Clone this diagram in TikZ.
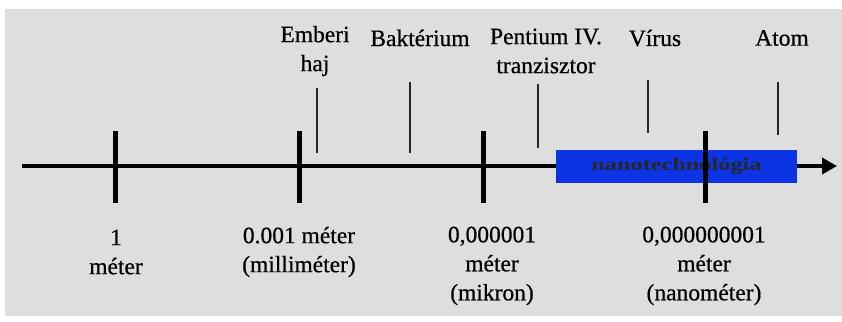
\documentclass[tikz,border=0pt]{standalone}
\usepackage{fontspec}
\usepackage{graphicx}
\setmainfont{Liberation Serif}
\newfontfamily\heavyserif[FakeBold=0.6]{Liberation Serif}
\usetikzlibrary{arrows.meta}
\definecolor{bggray}{RGB}{222,222,222}
\definecolor{nanoblue}{RGB}{12,52,228}
\tikzset{
  lbl/.style={font=\heavyserif\fontsize{23.5}{29}\selectfont, align=center, inner sep=0pt, text=black},
  tickmark/.style={line width=5pt, black},
  pointer/.style={line width=1.4pt, black!85},
  axisline/.style={line width=4pt, black, -{Triangle[length=15pt,width=16pt]}},
  nanobox/.style={fill=nanoblue, draw=none, minimum width=241pt, minimum height=33pt, inner sep=0pt,
    font=\bfseries\fontsize{18}{20}\selectfont, text=black!85}
}
\begin{document}
\begin{tikzpicture}[x=1pt,y=-1pt]
\useasboundingbox (0,0) rectangle (842,321);
\fill[white] (0,0) rectangle (842,321);
\fill[bggray] (5,9) rectangle (842,316);
% axis
\coordinate (axstart) at (22,166);
\coordinate (axend) at (837,166);
\draw[axisline] (axstart) -- (axend);
% blue box
\node[nanobox] (nano) at (676.5,166.5) {\scalebox{1.35}[1]{nanotechnológia}};
% ticks
\foreach \n/\x in {t1/115,t2/299,t3/483,t4/705}{
  \coordinate (\n top) at (\x,131);
  \coordinate (\n bot) at (\x,203);
  \draw[tickmark] (\n top) -- (\n bot);
}
% bottom labels
\node[lbl] (l1) at (116,252) {1\\méter};
\node[lbl] (l2) at (299,252) {0.001 méter\\(milliméter)};
\node[lbl] (l3) at (492,266) {0,000001\\méter\\(mikron)};
\node[lbl] (l4) at (704,266) {0,000000001\\méter\\(nanométer)};
% top labels
\node[lbl] (emberi) at (315,51) {Emberi\\haj};
\node[lbl] (bakt) at (420,38) {Baktérium};
\node[lbl] (pentium) at (546,51) {Pentium IV.\\tranzisztor};
\node[lbl] (virus) at (655,38) {Vírus};
\node[lbl] (atom) at (782,38) {Atom};
% pointer lines
\coordinate (pe1) at (317,88);  \coordinate (pe2) at (317,153);
\coordinate (pb1) at (410,82);  \coordinate (pb2) at (410,153);
\coordinate (pp1) at (538,84);  \coordinate (pp2) at (538,148);
\coordinate (pv1) at (648,80);  \coordinate (pv2) at (648,133);
\coordinate (pa1) at (778,82);  \coordinate (pa2) at (778,135);
\draw[pointer] (pe1) -- (pe2);
\draw[pointer] (pb1) -- (pb2);
\draw[pointer] (pp1) -- (pp2);
\draw[pointer] (pv1) -- (pv2);
\draw[pointer] (pa1) -- (pa2);
\end{tikzpicture}
\end{document}
